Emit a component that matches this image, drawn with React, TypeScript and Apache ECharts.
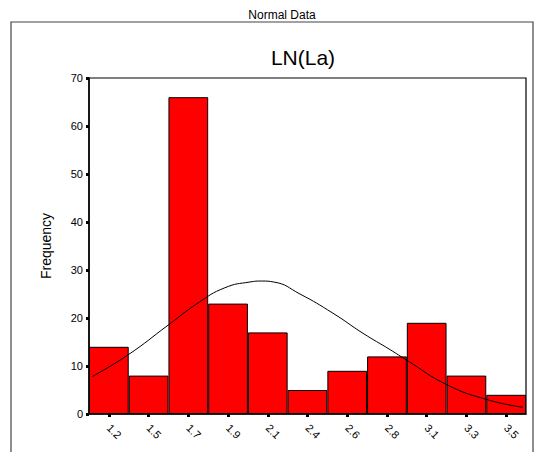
import React, { useEffect, useRef } from "react";
import * as echarts from "echarts";

const categories = ["1.2", "1.5", "1.7", "1.9", "2.1", "2.4", "2.6", "2.8", "3.1", "3.3", "3.5"];
const frequencies = [14, 8, 66, 23, 17, 5, 9, 12, 19, 8, 4];
// Normal curve: [position in bin units, frequency]
const curvePoints: [number, number][] = [
  [0.08, 7.8],
  [0.98, 12.3],
  [1.99, 18.5],
  [2.74, 23.1],
  [3.42, 26.3],
  [4.05, 27.5],
  [4.35, 27.7],
  [4.65, 27.5],
  [5.31, 25.0],
  [6.14, 21.0],
  [6.9, 16.8],
  [7.58, 13.4],
  [8.0, 11.2],
  [9.01, 6.1],
  [10.02, 3.0],
  [10.92, 1.4],
];
const yTicks = [0, 70, 10];

const FONT = "Liberation Sans, Arial, sans-serif";

export default function App() {
  const ref = useRef<HTMLDivElement>(null);
  useEffect(() => {
    if (!ref.current) return;
    const chart = echarts.init(ref.current, undefined, { renderer: "svg" });
    chart.setOption({
      animation: false,
      backgroundColor: "#ffffff",
      textStyle: { fontFamily: FONT },
      title: [
        {
          text: "Normal Data",
          left: 277,
          top: 4,
          textAlign: "center",
          textStyle: { fontSize: 12, fontWeight: "normal", color: "#000", fontFamily: FONT },
        },
        {
          text: "LN(La)",
          left: 298,
          top: 42,
          textAlign: "center",
          textStyle: { fontSize: 21, fontWeight: "normal", color: "#000", fontFamily: FONT },
        },
      ],
      graphic: [
        {
          type: "rect",
          shape: { x: 11, y: 22, width: 522, height: 460 },
          style: { fill: "none", stroke: "#444", lineWidth: 1.2 },
          silent: true,
        },
      ],
      grid: {
        left: 89,
        right: 12,
        top: 78,
        bottom: 38,
        show: true,
        borderColor: "#000",
        borderWidth: 1.2,
        backgroundColor: "transparent",
      },
      xAxis: [
        {
          type: "category",
          data: categories,
          boundaryGap: true,
          axisLine: { lineStyle: { color: "#000", width: 1.5 } },
          axisTick: { show: true, alignWithLabel: true, length: 3, lineStyle: { color: "#000", width: 3 } },
          axisLabel: { rotate: -45, fontSize: 11, color: "#000", margin: 12, fontFamily: FONT },
          splitLine: { show: false },
        },
        {
          type: "value",
          min: 0,
          max: 11,
          show: false,
        },
      ],
      yAxis: {
        type: "value",
        min: yTicks[0],
        max: yTicks[1],
        interval: yTicks[2],
        name: "Frequency",
        nameLocation: "middle",
        nameGap: 36,
        nameTextStyle: { fontSize: 14, color: "#000", fontFamily: FONT },
        axisLine: { show: true, lineStyle: { color: "#000", width: 1.5 } },
        axisTick: { show: true, length: 3, lineStyle: { color: "#000", width: 3 } },
        axisLabel: { fontSize: 11, color: "#000", margin: 6, fontFamily: FONT },
        splitLine: { show: false },
      },
      series: [
        {
          type: "bar",
          xAxisIndex: 0,
          data: frequencies,
          barCategoryGap: "0%",
          itemStyle: { color: "#ff0000", borderColor: "#000", borderWidth: 1 },
        },
        {
          type: "line",
          xAxisIndex: 1,
          data: curvePoints,
          smooth: true,
          showSymbol: false,
          symbol: "none",
          lineStyle: { color: "#000", width: 1 },
          z: 5,
        },
      ],
    });
    return () => chart.dispose();
  }, []);
  return (
    <div
      ref={ref}
      style={{ position: "fixed", left: 0, top: 0, width: 538, height: 452 }}
    />
  );
}
